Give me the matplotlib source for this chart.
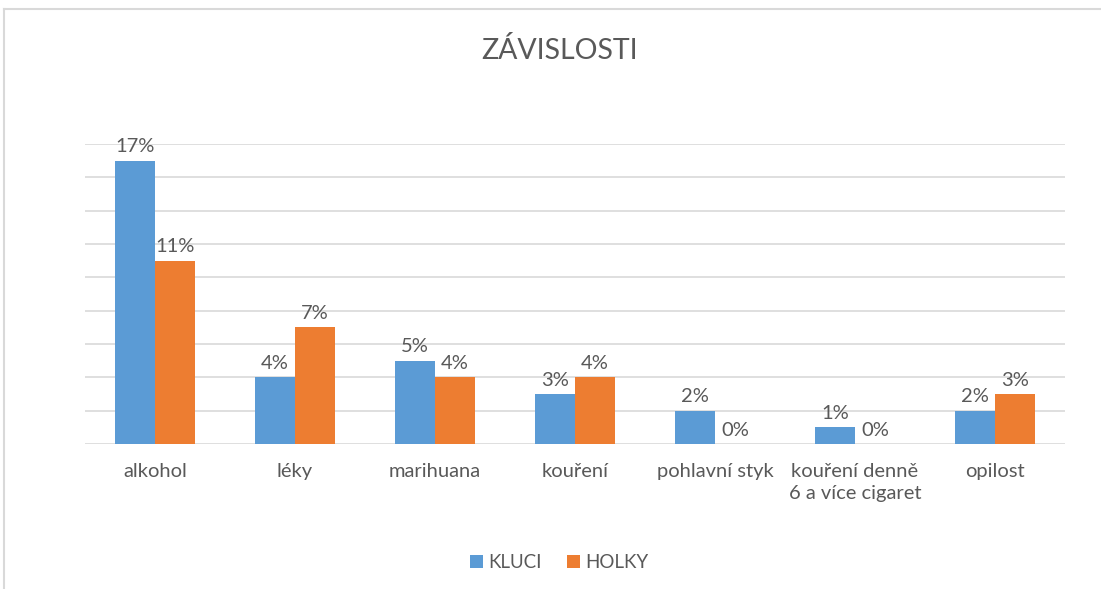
import numpy as np
import matplotlib.pyplot as plt
from matplotlib.lines import Line2D

plt.rcParams['font.family'] = ['Lato', 'DejaVu Sans']

kategorie = ['alkohol', 'léky', 'marihuana', 'kouření', 'pohlavní styk',
             'kouření denně\n6 a více cigaret', 'opilost']
kluci = [17, 4, 5, 3, 2, 1, 2]
holky = [11, 7, 4, 4, 0, 0, 3]

modra = '#5B9BD5'
oranzova = '#ED7D31'
seda_text = '#595959'

fig = plt.figure(figsize=(11.01, 5.89), dpi=100)
ax = fig.add_axes([0.0772, 0.246, 0.890, 0.5095])

x = np.arange(len(kategorie))
w = 0.286
b1 = ax.bar(x - w / 2, kluci, w, color=modra, label='KLUCI', zorder=2)
b2 = ax.bar(x + w / 2, holky, w, color=oranzova, label='HOLKY', zorder=2)

for bars, vals in ((b1, kluci), (b2, holky)):
    for r, v in zip(bars, vals):
        ax.annotate(f'{v}%', (r.get_x() + r.get_width() / 2, v),
                    xytext=(0, 4), textcoords='offset points',
                    ha='center', va='bottom', fontsize=14.5, color=seda_text)

ax.set_xlim(-0.5, len(kategorie) - 0.5)
ax.set_ylim(0, 18)
ax.set_yticks(np.arange(0, 19, 2))
ax.yaxis.grid(True, color='#D9D9D9', linewidth=1.2, zorder=0)
ax.set_axisbelow(True)
ax.tick_params(axis='y', left=False, labelleft=False)
ax.tick_params(axis='x', bottom=False, labelsize=14.5, labelcolor=seda_text, pad=10)
ax.set_xticks(x)
ax.set_xticklabels(kategorie, linespacing=1.4, va='top')
for s in ax.spines.values():
    s.set_visible(False)

fig.text(0.508, 0.915, 'ZÁVISLOSTI', ha='center', va='center', fontsize=20.5, color=seda_text)

fig.legend(handles=[b1, b2], loc='center', bbox_to_anchor=(0.508, 0.045), ncol=2,
           frameon=False, fontsize=13.5, labelcolor=seda_text, handlelength=0.7,
           handleheight=0.7, handletextpad=0.3, columnspacing=1.3)

# okraj grafu
fig.add_artist(Line2D([0.004, 1.0], [0.985, 0.985], color='#D9D9D9', linewidth=1.5))
fig.add_artist(Line2D([0.004, 0.004], [0.0, 0.985], color='#D9D9D9', linewidth=1.5))

fig.savefig('out.png', dpi=100)
